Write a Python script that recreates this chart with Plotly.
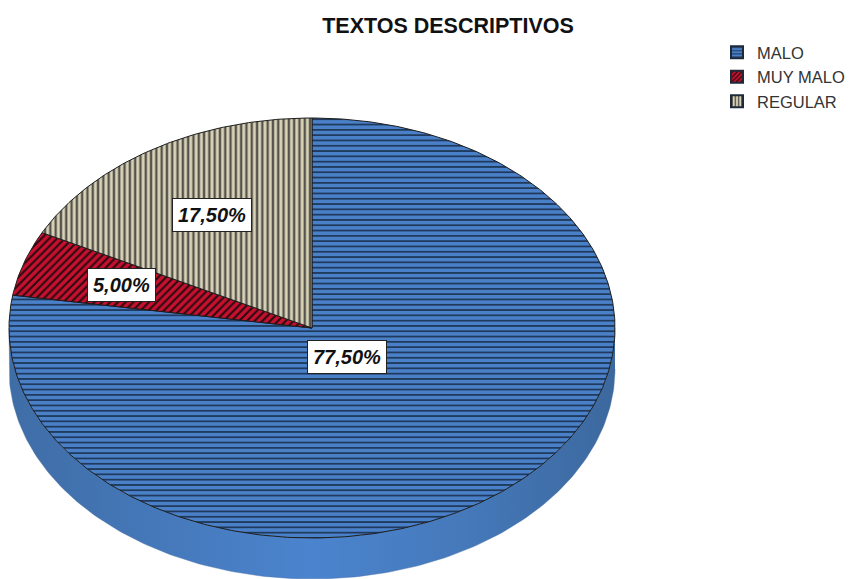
import numpy as np
import plotly.graph_objects as go

# --- data ---
categories = ["MALO", "MUY MALO", "REGULAR"]
percent_values = [77.5, 5.0, 17.5]
percent_labels = ["77,50%", "5,00%", "17,50%"]
chart_title = "TEXTOS DESCRIPTIVOS"

# --- styling ---
bg_colors = ["#4a80c8", "#c8102e", "#d8d2b8"]
fg_colors = ["#1f3a5c", "#2a0a10", "#55534a"]
shapes_ = ["-", "/", "|"]
pattern_sizes = [5.3, 5.5, 5.3]
pattern_solid = [0.34, 0.38, 0.45]
label_radius = [0.18, 0.66, 0.63]
label_angle_deg = [139.5, 288.0, 328.5]

# --- geometry of the tilted pie, in pixels of the 852x579 page ---
CX, CY, RX, RY, DEPTH = 312, 328, 303, 210, 41


def ellipse(t):
    return CX + RX * np.sin(t), CY - RY * np.cos(t)


fig = go.Figure()

# extruded rim (front half of the disc)
t_front = np.radians(np.linspace(90, 270, 181))
x_top, y_top = ellipse(t_front)
side_x = np.concatenate([x_top, x_top[::-1]])
side_y = np.concatenate([y_top, (y_top + DEPTH)[::-1]])
fig.add_trace(go.Scatter(
    x=side_x, y=side_y, mode="lines", fill="toself",
    line=dict(color="rgba(70,110,160,0.8)", width=0.5),
    fillgradient=dict(
        type="horizontal", start=CX - RX, stop=CX + RX,
        colorscale=[[0, "#3f6da6"], [0.5, "#4b84ce"], [0.75, "#4579ba"], [1, "#3c689e"]],
    ),
    showlegend=False, hoverinfo="skip",
))

# top face slices, each computed from its share
start = 0.0
for i, (name, value) in enumerate(zip(categories, percent_values)):
    stop = start + value / sum(percent_values) * 2 * np.pi
    t = np.linspace(start, stop, max(int(value * 6), 12))
    ex, ey = ellipse(t)
    fig.add_trace(go.Scatter(
        x=np.concatenate([[CX], ex, [CX]]),
        y=np.concatenate([[CY], ey, [CY]]),
        mode="lines", fill="toself", name=name,
        line=dict(color="#1c1c1c", width=1),
        fillcolor=bg_colors[i],
        fillpattern=dict(
            shape=shapes_[i], bgcolor=bg_colors[i], fgcolor=fg_colors[i],
            size=pattern_sizes[i], solidity=pattern_solid[i], fillmode="replace",
        ),
        showlegend=False, hoverinfo="skip",
    ))
    # zero-height bar: supplies the square patterned legend swatch
    fig.add_trace(go.Bar(
        x=[name], y=[0], name=name, xaxis="x2", showlegend=True, hoverinfo="skip",
        marker=dict(
            color=bg_colors[i], line=dict(color="#1c2a3a", width=2),
            pattern=dict(
                shape=shapes_[i], bgcolor=bg_colors[i], fgcolor=fg_colors[i],
                size=4, solidity=pattern_solid[i], fillmode="replace",
            ),
        ),
        opacity=1,
    ))
    start = stop

# percentage labels
for text, r, ang in zip(percent_labels, label_radius, label_angle_deg):
    a = np.radians(ang)
    lx, ly = CX + r * RX * np.sin(a), CY - r * RY * np.cos(a)
    fig.add_annotation(
        x=lx, y=ly, text="<b><i>%s</i></b>" % text, showarrow=False,
        font=dict(family="Liberation Sans", size=20, color="#111111"),
        bgcolor="white", bordercolor="#222222", borderwidth=1, borderpad=5,
    )

fig.update_layout(
    width=852, height=579, margin=dict(l=0, r=0, t=0, b=0, autoexpand=False),
    paper_bgcolor="white", plot_bgcolor="white",
    title=dict(
        text="<b>%s</b>" % chart_title, x=448 / 852, xanchor="center",
        y=1 - 25 / 579, yanchor="middle",
        font=dict(family="Liberation Sans", size=21.5, color="#111111"),
    ),
    xaxis=dict(range=[0, 852], visible=False, fixedrange=True),
    xaxis2=dict(overlaying="x", visible=False, fixedrange=True, range=[5, 6], type="category"),
    yaxis=dict(range=[579, 0], visible=False, fixedrange=True),
    legend=dict(
        x=717 / 852, y=1 - 35 / 579, xanchor="left", yanchor="top",
        font=dict(family="Liberation Sans", size=16.5, color="#333333"),
        itemwidth=30, bgcolor="rgba(0,0,0,0)",
    ),
)

fig.write_html("out.html", config=dict(displayModeBar=False),
               post_script="document.body.style.margin='0';")
